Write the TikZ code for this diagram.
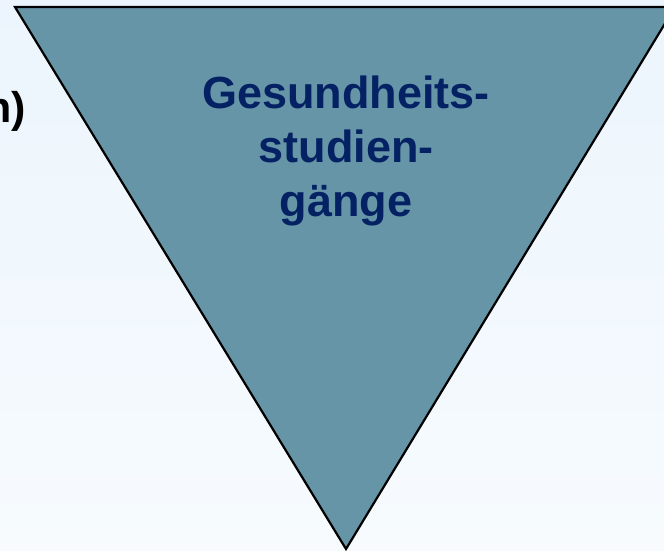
\documentclass[tikz,border=0pt]{standalone}
\usepackage{fontspec}
\setmainfont{Liberation Sans}
\definecolor{bgtop}{RGB}{236,245,253}
\definecolor{bgmid}{RGB}{242,248,254}
\definecolor{bgbot}{RGB}{247,251,254}
\definecolor{trifill}{RGB}{103,149,168}
\definecolor{navytext}{RGB}{3,33,99}
\tikzset{
  bigtext/.style={font=\bfseries\fontsize{45}{54}\selectfont, inner sep=0pt},
  cuttext/.style={font=\bfseries\fontsize{43}{52}\selectfont, inner sep=0pt},
  tri/.style={draw=black, line width=2.2pt, fill=trifill, line join=miter}
}
\begin{document}
\begin{tikzpicture}[x=1pt,y=-1pt]
\useasboundingbox (0,0) rectangle (664,550);
\clip (0,0) rectangle (664,550);
\shade[top color=bgtop, middle color=bgmid, bottom color=bgbot] (0,0) rectangle (664,550);
\coordinate (tl) at (15,7);
\coordinate (tr) at (675,7);
\coordinate (apex) at (346,549);
\draw[tri] (tl) -- (tr) -- (apex) -- cycle;
\node[bigtext, text=navytext, align=center, anchor=base] (title) at (346,216) {Gesundheits-\\studien-\\gänge};
\node[cuttext, text=black, anchor=base east] (cut) at (26,122) {n)};
\end{tikzpicture}
\end{document}
